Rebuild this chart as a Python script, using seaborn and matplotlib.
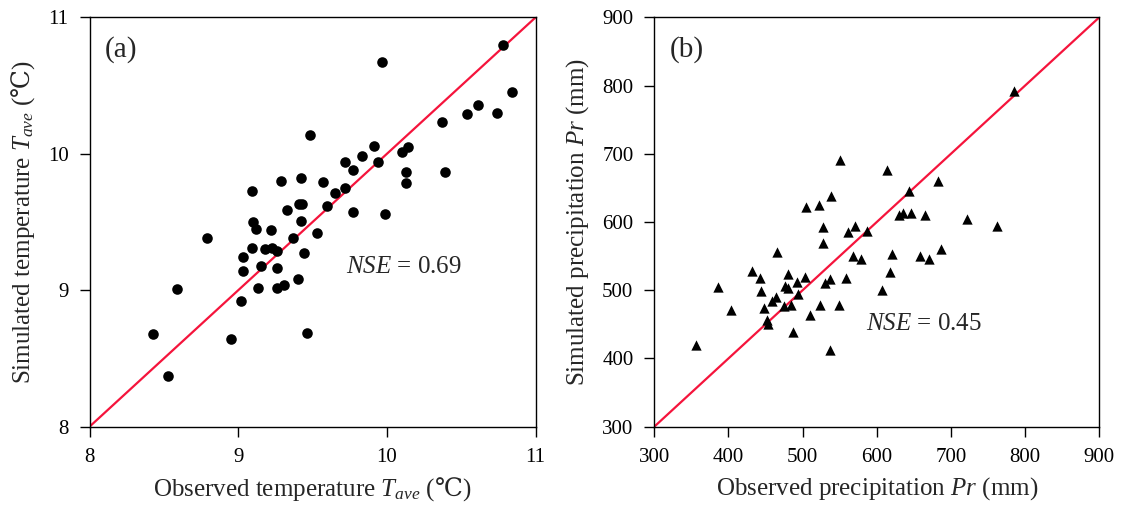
import numpy as np
import pandas as pd
import matplotlib
matplotlib.use("Agg")
import matplotlib.pyplot as plt
import seaborn as sns

# Panel (a): temperature (deg C)
obs_temp = [10.78, 9.97, 10.84, 10.61, 10.74, 10.54, 10.37, 9.48, 9.91, 10.14,
            10.10, 9.83, 9.72, 9.94, 9.77, 10.13, 10.39, 9.42, 9.57, 10.13,
            9.72, 9.65, 9.43, 9.41, 9.60, 9.77, 9.99, 9.29, 9.09, 9.33,
            9.10, 9.12, 9.22, 9.42, 9.53, 9.37, 8.79, 9.09, 9.18, 9.23,
            9.26, 9.44, 9.03, 9.03, 9.15, 9.26, 9.40, 8.59, 9.13, 9.26,
            9.31, 9.02, 8.43, 8.95, 9.46, 8.53]
sim_temp = [10.80, 10.67, 10.45, 10.36, 10.30, 10.29, 10.23, 10.14, 10.06, 10.05,
            10.01, 9.98, 9.94, 9.94, 9.88, 9.87, 9.87, 9.82, 9.79, 9.785,
            9.75, 9.71, 9.63, 9.63, 9.62, 9.57, 9.56, 9.80, 9.73, 9.59,
            9.50, 9.45, 9.44, 9.51, 9.42, 9.38, 9.38, 9.31, 9.30, 9.31,
            9.29, 9.27, 9.24, 9.14, 9.18, 9.16, 9.08, 9.01, 9.02, 9.02,
            9.04, 8.92, 8.68, 8.64, 8.69, 8.37]

# Panel (b): precipitation (mm)
obs_pr = [504.5, 521.7, 527.4, 570.6, 560.8, 586.4, 527.4, 465.4, 567.5, 578.3,
          431.3, 442.9, 480.3, 503.2, 537.3, 558.9, 492.0, 530.1, 385.9, 476.2,
          480.7, 443.5, 493.7, 464.1, 458.3, 403.0, 447.5, 474.5, 484.3, 523.4,
          549.0, 509.9, 451.5, 453.3, 486.6, 356.2, 536.5, 550.4, 538.2, 785.0,
          614.1, 682.1, 643.8, 630.3, 635.7, 646.1, 664.6, 721.2, 762.5, 620.1,
          658.2, 670.8, 686.9, 618.2, 607.4]
sim_pr = [621.6, 625.0, 592.7, 594.2, 584.9, 586.8, 568.8, 556.5, 550.2, 545.3,
          528.2, 518.4, 523.4, 519.4, 516.9, 518.4, 512.1, 511.1, 505.2, 506.2,
          502.8, 498.9, 494.5, 490.5, 484.2, 470.6, 474.4, 476.9, 478.8, 478.8,
          478.8, 464.2, 456.4, 450.5, 439.2, 419.3, 412.4, 691.3, 638.1, 792.5,
          676.2, 660.1, 645.5, 610.3, 613.6, 613.6, 610.3, 604.0, 594.2, 552.7,
          550.6, 545.3, 560.9, 526.7, 500.8]

temp_lim = [8, 11]
temp_ticks = [8, 9, 10, 11]
pr_lim = [300, 900]
pr_ticks = [300, 400, 500, 600, 700, 800, 900]

sns.set_theme(style="ticks")
plt.rcParams["font.family"] = ["Liberation Serif", "DejaVu Serif"]
plt.rcParams["mathtext.fontset"] = "custom"
plt.rcParams["mathtext.rm"] = "Liberation Serif"
plt.rcParams["mathtext.it"] = "Liberation Serif:italic"
plt.rcParams["mathtext.sf"] = "DejaVu Serif"

df_a = pd.DataFrame({"obs": obs_temp, "sim": sim_temp})
df_b = pd.DataFrame({"obs": obs_pr, "sim": sim_pr})

fig = plt.figure(figsize=(11.23, 5.09), dpi=100)
ax1 = fig.add_axes([0.0797, 0.1617, 0.3973, 0.8043])
ax2 = fig.add_axes([0.5826, 0.1617, 0.3963, 0.8043])

line_color = "#f5143c"
degc = "$\\mathsf{\u2103}$"

# (a)
ax1.plot(temp_lim, temp_lim, color=line_color, lw=1.6, zorder=1)
sns.scatterplot(data=df_a, x="obs", y="sim", ax=ax1, marker="o", s=58,
                color="black", edgecolor="black", linewidth=0, zorder=2)
ax1.set_xlim(temp_lim)
ax1.set_ylim(temp_lim)
ax1.set_xticks(temp_ticks)
ax1.set_yticks(temp_ticks)
ax1.set_xlabel("Observed temperature $T_{ave}$ (" + degc + ")", fontsize=18, labelpad=6)
ax1.set_ylabel("Simulated temperature $T_{ave}$ (" + degc + ")", fontsize=18, labelpad=8)
ax1.text(0.035, 0.955, "(a)", transform=ax1.transAxes, fontsize=21, va="top", ha="left")
ax1.text(0.575, 0.39, "$NSE$ = 0.69", transform=ax1.transAxes, fontsize=18, va="center", ha="left")

# (b)
ax2.plot(pr_lim, pr_lim, color=line_color, lw=1.6, zorder=1)
sns.scatterplot(data=df_b, x="obs", y="sim", ax=ax2, marker="^", s=55,
                color="black", edgecolor="black", linewidth=0, zorder=2)
ax2.set_xlim(pr_lim)
ax2.set_ylim(pr_lim)
ax2.set_xticks(pr_ticks)
ax2.set_yticks(pr_ticks)
ax2.set_xlabel("Observed precipitation $Pr$ (mm)", fontsize=18, labelpad=6)
ax2.set_ylabel("Simulated precipitation $Pr$ (mm)", fontsize=18, labelpad=8)
ax2.text(0.035, 0.955, "(b)", transform=ax2.transAxes, fontsize=21, va="top", ha="left")
ax2.text(0.475, 0.25, "$NSE$ = 0.45", transform=ax2.transAxes, fontsize=18, va="center", ha="left")

for ax in (ax1, ax2):
    ax.tick_params(axis="both", direction="out", length=7, width=1.0,
                   labelsize=15, colors="black", pad=8)
    for sp in ax.spines.values():
        sp.set_visible(True)
        sp.set_color("black")
        sp.set_linewidth(1.0)

fig.savefig("out.png", dpi=100, facecolor="white")
